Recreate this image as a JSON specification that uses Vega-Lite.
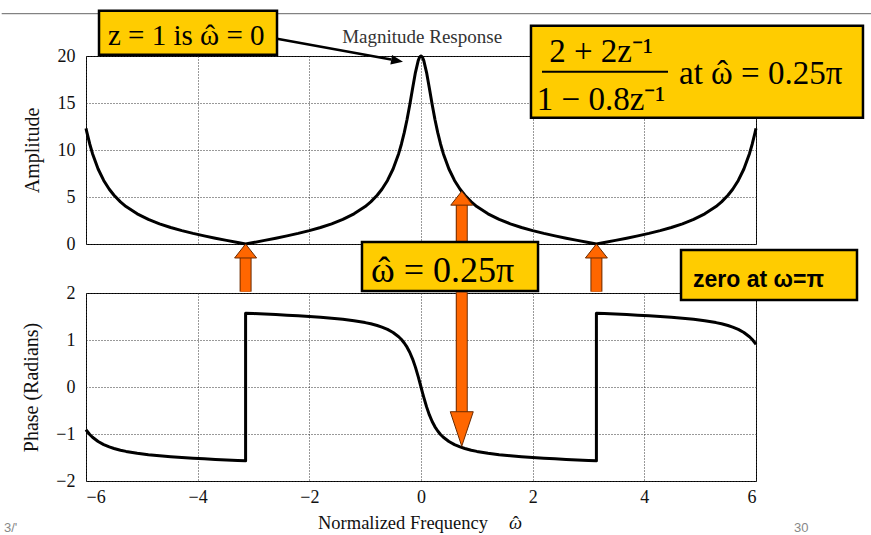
{
 "$schema": "https://vega.github.io/schema/vega-lite/v6.json",
 "background": "white",
 "padding": {"left": 0, "top": 8, "right": 0, "bottom": 0},
 "config": {
  "view": {"stroke": "black", "strokeWidth": 1},
  "axis": {"labelFont": "Liberation Serif", "labelFontSize": 18, "labelColor": "#111", "titleFont": "Liberation Serif", "titleFontSize": 20, "titleFontWeight": "normal", "titleColor": "#111", "grid": true, "gridColor": "#333", "gridDash": [1, 2], "gridWidth": 1, "domain": false, "ticks": false, "format": "d"}
 },
 "datasets": {
  "resp": [
   {"i":0,"x":-6.0,"mag":12.295,"phase":-0.9087},
   {"i":1,"x":-5.983,"mag":11.846,"phase":-0.9369},
   {"i":2,"x":-5.933,"mag":10.642,"phase":-1.0097},
   {"i":3,"x":-5.883,"mag":9.613,"phase":-1.0694},
   {"i":4,"x":-5.783,"mag":7.980,"phase":-1.1604},
   {"i":5,"x":-5.683,"mag":6.761,"phase":-1.2260},
   {"i":6,"x":-5.583,"mag":5.824,"phase":-1.2753},
   {"i":7,"x":-5.498,"mag":5.182,"phase":-1.3087},
   {"i":8,"x":-5.383,"mag":4.483,"phase":-1.3447},
   {"i":9,"x":-5.283,"mag":3.986,"phase":-1.3702},
   {"i":10,"x":-5.083,"mag":3.206,"phase":-1.4098},
   {"i":11,"x":-4.883,"mag":2.616,"phase":-1.4396},
   {"i":12,"x":-4.683,"mag":2.146,"phase":-1.4633},
   {"i":13,"x":-4.483,"mag":1.757,"phase":-1.4829},
   {"i":14,"x":-4.283,"mag":1.423,"phase":-1.4998},
   {"i":15,"x":-4.083,"mag":1.129,"phase":-1.5144},
   {"i":16,"x":-3.883,"mag":0.863,"phase":-1.5277},
   {"i":17,"x":-3.683,"mag":0.617,"phase":-1.5400},
   {"i":18,"x":-3.483,"mag":0.383,"phase":-1.5516},
   {"i":19,"x":-3.283,"mag":0.158,"phase":-1.5629},
   {"i":20,"x":-3.1416,"mag":0,"phase":-1.5708},
   {"i":21,"x":-3.1416,"mag":0,"phase":1.5708},
   {"i":22,"x":-3.0,"mag":0.158,"phase":1.5629},
   {"i":23,"x":-2.8,"mag":0.383,"phase":1.5516},
   {"i":24,"x":-2.6,"mag":0.617,"phase":1.5400},
   {"i":25,"x":-2.4,"mag":0.863,"phase":1.5277},
   {"i":26,"x":-2.2,"mag":1.129,"phase":1.5144},
   {"i":27,"x":-2.0,"mag":1.423,"phase":1.4998},
   {"i":28,"x":-1.8,"mag":1.757,"phase":1.4829},
   {"i":29,"x":-1.6,"mag":2.146,"phase":1.4633},
   {"i":30,"x":-1.4,"mag":2.616,"phase":1.4396},
   {"i":31,"x":-1.2,"mag":3.206,"phase":1.4098},
   {"i":32,"x":-1.0,"mag":3.986,"phase":1.3702},
   {"i":33,"x":-0.9,"mag":4.483,"phase":1.3447},
   {"i":34,"x":-0.785,"mag":5.182,"phase":1.3087},
   {"i":35,"x":-0.7,"mag":5.824,"phase":1.2753},
   {"i":36,"x":-0.6,"mag":6.761,"phase":1.2260},
   {"i":37,"x":-0.5,"mag":7.980,"phase":1.1604},
   {"i":38,"x":-0.4,"mag":9.613,"phase":1.0694},
   {"i":39,"x":-0.35,"mag":10.642,"phase":1.0097},
   {"i":40,"x":-0.3,"mag":11.846,"phase":0.9369},
   {"i":41,"x":-0.25,"mag":13.248,"phase":0.8468},
   {"i":42,"x":-0.2,"mag":14.844,"phase":0.7343},
   {"i":43,"x":-0.15,"mag":16.567,"phase":0.5945},
   {"i":44,"x":-0.1,"mag":18.236,"phase":0.4230},
   {"i":45,"x":-0.05,"mag":19.512,"phase":0.2214},
   {"i":46,"x":-0.025,"mag":19.874,"phase":0.1120},
   {"i":47,"x":0,"mag":20,"phase":0},
   {"i":48,"x":0.025,"mag":19.874,"phase":-0.1120},
   {"i":49,"x":0.05,"mag":19.512,"phase":-0.2214},
   {"i":50,"x":0.1,"mag":18.236,"phase":-0.4230},
   {"i":51,"x":0.15,"mag":16.567,"phase":-0.5945},
   {"i":52,"x":0.2,"mag":14.844,"phase":-0.7343},
   {"i":53,"x":0.25,"mag":13.248,"phase":-0.8468},
   {"i":54,"x":0.3,"mag":11.846,"phase":-0.9369},
   {"i":55,"x":0.35,"mag":10.642,"phase":-1.0097},
   {"i":56,"x":0.4,"mag":9.613,"phase":-1.0694},
   {"i":57,"x":0.5,"mag":7.980,"phase":-1.1604},
   {"i":58,"x":0.6,"mag":6.761,"phase":-1.2260},
   {"i":59,"x":0.7,"mag":5.824,"phase":-1.2753},
   {"i":60,"x":0.785,"mag":5.182,"phase":-1.3087},
   {"i":61,"x":0.9,"mag":4.483,"phase":-1.3447},
   {"i":62,"x":1.0,"mag":3.986,"phase":-1.3702},
   {"i":63,"x":1.2,"mag":3.206,"phase":-1.4098},
   {"i":64,"x":1.4,"mag":2.616,"phase":-1.4396},
   {"i":65,"x":1.6,"mag":2.146,"phase":-1.4633},
   {"i":66,"x":1.8,"mag":1.757,"phase":-1.4829},
   {"i":67,"x":2.0,"mag":1.423,"phase":-1.4998},
   {"i":68,"x":2.2,"mag":1.129,"phase":-1.5144},
   {"i":69,"x":2.4,"mag":0.863,"phase":-1.5277},
   {"i":70,"x":2.6,"mag":0.617,"phase":-1.5400},
   {"i":71,"x":2.8,"mag":0.383,"phase":-1.5516},
   {"i":72,"x":3.0,"mag":0.158,"phase":-1.5629},
   {"i":73,"x":3.1416,"mag":0,"phase":-1.5708},
   {"i":74,"x":3.1416,"mag":0,"phase":1.5708},
   {"i":75,"x":3.283,"mag":0.158,"phase":1.5629},
   {"i":76,"x":3.483,"mag":0.383,"phase":1.5516},
   {"i":77,"x":3.683,"mag":0.617,"phase":1.5400},
   {"i":78,"x":3.883,"mag":0.863,"phase":1.5277},
   {"i":79,"x":4.083,"mag":1.129,"phase":1.5144},
   {"i":80,"x":4.283,"mag":1.423,"phase":1.4998},
   {"i":81,"x":4.483,"mag":1.757,"phase":1.4829},
   {"i":82,"x":4.683,"mag":2.146,"phase":1.4633},
   {"i":83,"x":4.883,"mag":2.616,"phase":1.4396},
   {"i":84,"x":5.083,"mag":3.206,"phase":1.4098},
   {"i":85,"x":5.283,"mag":3.986,"phase":1.3702},
   {"i":86,"x":5.383,"mag":4.483,"phase":1.3447},
   {"i":87,"x":5.498,"mag":5.182,"phase":1.3087},
   {"i":88,"x":5.583,"mag":5.824,"phase":1.2753},
   {"i":89,"x":5.683,"mag":6.761,"phase":1.2260},
   {"i":90,"x":5.783,"mag":7.980,"phase":1.1604},
   {"i":91,"x":5.883,"mag":9.613,"phase":1.0694},
   {"i":92,"x":5.933,"mag":10.642,"phase":1.0097},
   {"i":93,"x":5.983,"mag":11.846,"phase":0.9369},
   {"i":94,"x":6.0,"mag":12.295,"phase":0.9087}
  ]
 },
 "spacing": 49,
 "bounds": "flush",
 "vconcat": [
  {
   "width": 670,
   "height": 188,
   "layer": [
    {"data": {"name": "resp"}, "mark": {"type": "line", "color": "black", "strokeWidth": 3, "strokeJoin": "round"},
     "encoding": {
      "x": {"field": "x", "type": "quantitative", "scale": {"domain": [-6, 6], "nice": false, "zero": false}, "axis": {"values": [-6, -4, -2, 0, 2, 4, 6], "labels": false, "title": null}},
      "y": {"field": "mag", "type": "quantitative", "scale": {"domain": [0, 20], "nice": false}, "axis": {"values": [0, 5, 10, 15, 20], "title": "Amplitude", "labelPadding": 11, "titlePadding": 15}},
      "order": {"field": "i"}}},
    {"data": {"values": [{}]}, "mark": {"type": "text", "text": "Magnitude Response", "font": "Liberation Serif", "fontSize": 19, "align": "center", "baseline": "alphabetic", "color": "#333"},
     "encoding": {"x": {"datum": 0.02}, "y": {"datum": 21.41}}},
    {"data": {"values": [{}]}, "mark": {"type": "rule", "color": "#666", "strokeWidth": 1},
     "encoding": {"x": {"datum": -7.51}, "x2": {"datum": 8.09}, "y": {"datum": 24.5}}},
    {"data": {"values": [{}]}, "mark": {"type": "rule", "color": "black", "strokeWidth": 2.5},
     "encoding": {"x": {"datum": -2.579}, "y": {"datum": 21.84}, "x2": {"datum": -0.534}, "y2": {"datum": 19.62}}},
    {"data": {"values": [{}]}, "mark": {"type": "point", "shape": "M0,0L-1,-0.4L-1,0.4Z", "size": 576, "angle": 10, "filled": true, "color": "black", "opacity": 1},
     "encoding": {"x": {"datum": -0.322}, "y": {"datum": 19.39}}},
    {"data": {"values": [{}]}, "mark": {"type": "rect", "fill": "#FFCC00", "stroke": "black", "strokeWidth": 2.5},
     "encoding": {"x": {"datum": -5.767}, "x2": {"datum": -2.579}, "y": {"datum": 24.82}, "y2": {"datum": 20.14}}},
    {"data": {"values": [{}]}, "mark": {"type": "text", "text": "z = 1 is ω = 0", "font": "Liberation Serif", "fontSize": 29, "align": "left", "baseline": "alphabetic", "color": "black"},
     "encoding": {"x": {"datum": -5.606}, "y": {"datum": 21.2}}},
    {"data": {"values": [{}]}, "mark": {"type": "text", "text": "ˆ", "font": "Liberation Serif", "fontSize": 29, "align": "center", "baseline": "alphabetic", "color": "black"},
     "encoding": {"x": {"datum": -3.779}, "y": {"datum": 21.2}}},
    {"data": {"values": [{}]}, "mark": {"type": "rect", "fill": "#FFCC00", "stroke": "black", "strokeWidth": 2.5},
     "encoding": {"x": {"datum": 1.97}, "x2": {"datum": 7.916}, "y": {"datum": 23.22}, "y2": {"datum": 13.43}}},
    {"data": {"values": [{}]}, "mark": {"type": "text", "text": "2 + 2z⁻¹", "font": "Liberation Serif", "fontSize": 33, "align": "center", "baseline": "alphabetic", "color": "black"},
     "encoding": {"x": {"datum": 3.224}, "y": {"datum": 19.39}}},
    {"data": {"values": [{}]}, "mark": {"type": "text", "text": "1 − 0.8z⁻¹", "font": "Liberation Serif", "fontSize": 33, "align": "center", "baseline": "alphabetic", "color": "black"},
     "encoding": {"x": {"datum": 3.224}, "y": {"datum": 14.29}}},
    {"data": {"values": [{}]}, "mark": {"type": "rule", "color": "black", "strokeWidth": 2},
     "encoding": {"x": {"datum": 2.167}, "x2": {"datum": 4.424}, "y": {"datum": 18.33}}},
    {"data": {"values": [{}]}, "mark": {"type": "text", "text": "at ω = 0.25π", "font": "Liberation Serif", "fontSize": 33, "align": "left", "baseline": "alphabetic", "color": "black"},
     "encoding": {"x": {"datum": 4.621}, "y": {"datum": 17.05}}},
    {"data": {"values": [{}]}, "mark": {"type": "text", "text": "ˆ", "font": "Liberation Serif", "fontSize": 33, "align": "center", "baseline": "alphabetic", "color": "black"},
     "encoding": {"x": {"datum": 5.399}, "y": {"datum": 17.05}}},
    {"data": {"values": [{}]}, "mark": {"type": "rule", "color": "#6b2a00", "strokeWidth": 12},
     "encoding": {"x": {"datum": -3.1416}, "y": {"datum": -5.07}, "y2": {"datum": -1.4}}},
    {"data": {"values": [{}]}, "mark": {"type": "rule", "color": "#FF6600", "strokeWidth": 10},
     "encoding": {"x": {"datum": -3.1416}, "y": {"datum": -5.07}, "y2": {"datum": -1.4}}},
    {"data": {"values": [{}]}, "mark": {"type": "point", "shape": "M0,0L1,1.27L-1,1.27Z", "size": 484, "filled": true, "fill": "#FF6600", "stroke": "#6b2a00", "strokeWidth": 1, "opacity": 1},
     "encoding": {"x": {"datum": -3.1416}, "y": {"datum": 0}}},
    {"data": {"values": [{}]}, "mark": {"type": "rule", "color": "#6b2a00", "strokeWidth": 12},
     "encoding": {"x": {"datum": 3.1416}, "y": {"datum": -5.07}, "y2": {"datum": -1.4}}},
    {"data": {"values": [{}]}, "mark": {"type": "rule", "color": "#FF6600", "strokeWidth": 10},
     "encoding": {"x": {"datum": 3.1416}, "y": {"datum": -5.07}, "y2": {"datum": -1.4}}},
    {"data": {"values": [{}]}, "mark": {"type": "point", "shape": "M0,0L1,1.27L-1,1.27Z", "size": 484, "filled": true, "fill": "#FF6600", "stroke": "#6b2a00", "strokeWidth": 1, "opacity": 1},
     "encoding": {"x": {"datum": 3.1416}, "y": {"datum": 0}}},
    {"data": {"values": [{}]}, "mark": {"type": "rule", "color": "#6b2a00", "strokeWidth": 12},
     "encoding": {"x": {"datum": 0.73}, "y": {"datum": -5.18}, "y2": {"datum": 4.2}}},
    {"data": {"values": [{}]}, "mark": {"type": "rule", "color": "#FF6600", "strokeWidth": 10},
     "encoding": {"x": {"datum": 0.73}, "y": {"datum": -5.18}, "y2": {"datum": 4.2}}},
    {"data": {"values": [{}]}, "mark": {"type": "point", "shape": "M0,0L1,1.27L-1,1.27Z", "size": 484, "filled": true, "fill": "#FF6600", "stroke": "#6b2a00", "strokeWidth": 1, "opacity": 1},
     "encoding": {"x": {"datum": 0.73}, "y": {"datum": 5.62}}}
   ]
  },
  {
   "width": 670,
   "height": 188,
   "layer": [
    {"data": {"name": "resp"}, "mark": {"type": "line", "color": "black", "strokeWidth": 3, "strokeJoin": "round"},
     "encoding": {
      "x": {"field": "x", "type": "quantitative", "scale": {"domain": [-6, 6], "nice": false, "zero": false}, "axis": {"values": [-6, -4, -2, 0, 2, 4, 6], "title": null, "labelPadding": 7, "format": "d"}},
      "y": {"field": "phase", "type": "quantitative", "scale": {"domain": [-2, 2], "nice": false, "zero": false}, "axis": {"values": [-2, -1, 0, 1, 2], "title": "Phase (Radians)", "labelPadding": 11, "titlePadding": 14, "format": "d"}},
      "order": {"field": "i"}}},
    {"data": {"values": [{}]}, "mark": {"type": "text", "text": "Normalized Frequency", "font": "Liberation Serif", "fontSize": 18.5, "align": "left", "baseline": "alphabetic", "color": "#111"},
     "encoding": {"x": {"datum": -1.845}, "y": {"datum": -3.021}}},
    {"data": {"values": [{}]}, "mark": {"type": "text", "text": "ω", "font": "Liberation Serif", "fontSize": 18.5, "fontStyle": "italic", "align": "left", "baseline": "alphabetic", "color": "#111"},
     "encoding": {"x": {"datum": 1.576}, "y": {"datum": -3.021}}},
    {"data": {"values": [{}]}, "mark": {"type": "text", "text": "ˆ", "font": "Liberation Serif", "fontSize": 18.5, "align": "center", "baseline": "alphabetic", "color": "#111"},
     "encoding": {"x": {"datum": 1.70}, "y": {"datum": -3.021}}},
    {"data": {"values": [{}]}, "mark": {"type": "rule", "color": "#6b2a00", "strokeWidth": 12},
     "encoding": {"x": {"datum": 0.73}, "y": {"datum": 2.0}, "y2": {"datum": -0.55}}},
    {"data": {"values": [{}]}, "mark": {"type": "rule", "color": "#FF6600", "strokeWidth": 10},
     "encoding": {"x": {"datum": 0.73}, "y": {"datum": 2.0}, "y2": {"datum": -0.55}}},
    {"data": {"values": [{}]}, "mark": {"type": "point", "shape": "M0,0L-1,-3L1,-3Z", "size": 529, "filled": true, "fill": "#FF6600", "stroke": "#6b2a00", "strokeWidth": 1, "opacity": 1},
     "encoding": {"x": {"datum": 0.73}, "y": {"datum": -1.26}}},
    {"data": {"values": [{}]}, "mark": {"type": "rect", "fill": "#FFCC00", "stroke": "black", "strokeWidth": 2.5},
     "encoding": {"x": {"datum": -1.057}, "x2": {"datum": 2.096}, "y": {"datum": 3.085}, "y2": {"datum": 2.043}}},
    {"data": {"values": [{}]}, "mark": {"type": "text", "text": "ω = 0.25π", "font": "Liberation Serif", "fontSize": 36, "align": "left", "baseline": "alphabetic", "color": "black"},
     "encoding": {"x": {"datum": -0.896}, "y": {"datum": 2.234}}},
    {"data": {"values": [{}]}, "mark": {"type": "text", "text": "ˆ", "font": "Liberation Serif", "fontSize": 36, "align": "center", "baseline": "alphabetic", "color": "black"},
     "encoding": {"x": {"datum": -0.659}, "y": {"datum": 2.234}}},
    {"data": {"values": [{}]}, "mark": {"type": "rect", "fill": "#FFCC00", "stroke": "black", "strokeWidth": 2.5},
     "encoding": {"x": {"datum": 4.657}, "x2": {"datum": 7.809}, "y": {"datum": 2.915}, "y2": {"datum": 1.851}}},
    {"data": {"values": [{}]}, "mark": {"type": "text", "text": "zero at ω=π", "font": "Liberation Sans", "fontSize": 23, "fontWeight": "bold", "align": "left", "baseline": "alphabetic", "color": "black"},
     "encoding": {"x": {"datum": 4.872}, "y": {"datum": 2.128}}},
    {"data": {"values": [{}]}, "mark": {"type": "text", "text": "3/'", "font": "Liberation Sans", "fontSize": 13, "align": "left", "baseline": "alphabetic", "color": "#888"},
     "encoding": {"x": {"datum": -7.469}, "y": {"datum": -3.08}}},
    {"data": {"values": [{}]}, "mark": {"type": "text", "text": "30", "font": "Liberation Sans", "fontSize": 13, "align": "left", "baseline": "alphabetic", "color": "#888"},
     "encoding": {"x": {"datum": 6.681}, "y": {"datum": -3.08}}}
   ]
  }
 ]
}
